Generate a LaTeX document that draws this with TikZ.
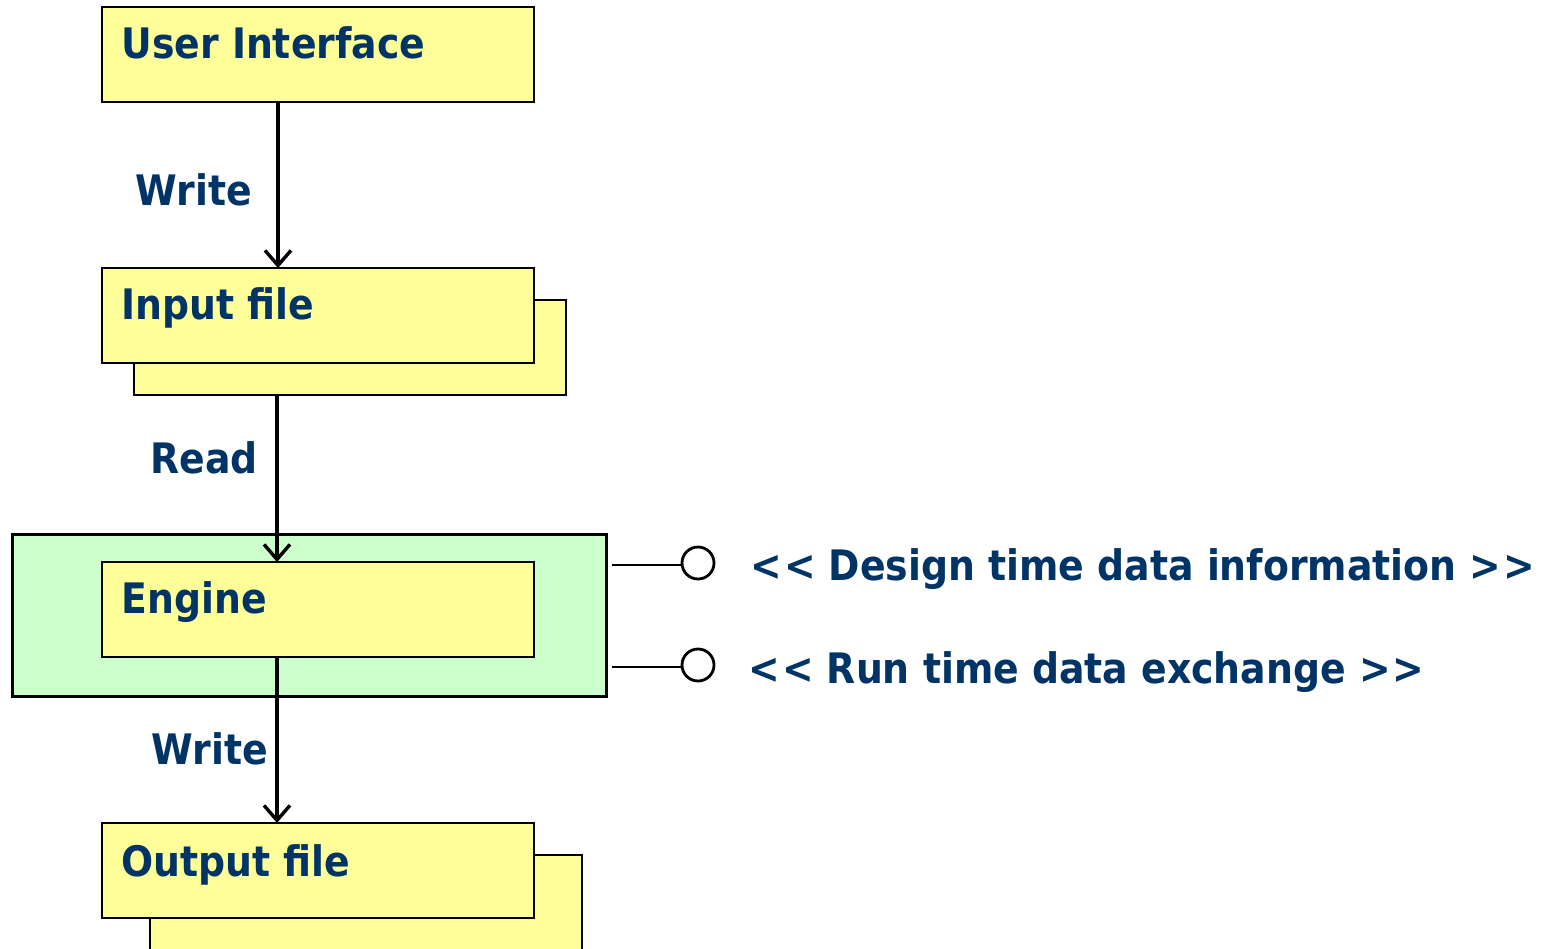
\documentclass[tikz,border=0pt]{standalone}
\usepackage{fontspec}
\setmainfont{DejaVu Sans}[FakeStretch=0.9]
\usepackage{xcolor}
\usetikzlibrary{arrows.meta}
\definecolor{navy}{HTML}{003366}
\definecolor{fileyellow}{HTML}{FFFF99}
\definecolor{enginegreen}{HTML}{CCFFCC}
\tikzset{
    filebox/.style={draw=black, fill=fileyellow, line width=1pt, minimum width=216pt, minimum height=47.5pt, inner sep=0pt, outer sep=0pt, anchor=north west},
    title/.style={text=navy, font=\fontsize{21}{25}\selectfont\bfseries, anchor=base west, inner sep=0pt},
    flow/.style={line width=1.7pt, -{Straight Barb[length=7.5pt, width=13pt, line width=1.7pt]}},
    socket/.style={circle, draw=black, line width=1.4pt, minimum size=16pt, inner sep=0pt}
}

\begin{document}
\begin{tikzpicture}[x=0.5pt, y=-0.5pt]
    \useasboundingbox (0,0) rectangle (1542,948);
    \clip (0,0) rectangle (1542,948);
    % stacked file shadows
    \node[filebox] (inshadow) at (134,300) {};
    \node[filebox] (outshadow) at (150,855) {};
    % boxes
    \node[filebox] (ui) at (102,7) {};
    \node[filebox] (input) at (102,268) {};
    \node[draw=black, fill=enginegreen, line width=1.5pt, minimum width=297pt, minimum height=81pt, inner sep=0pt, anchor=north west] (frame) at (11,533) {};
    \node[filebox] (engine) at (102,562) {};
    \node[filebox] (output) at (102,823) {};
    % box titles
    \node[title] at (121,58) {User Interface};
    \node[title] at (121,319) {Input file};
    \node[title] at (121,613) {Engine};
    \node[title] at (121,876) {Output file};
    % data flow
    \draw[flow] (ui.south -| 278,0) -- (input.north -| 278,0);
    \draw[flow] (inshadow.south -| 277,0) -- (engine.north -| 277,0);
    \draw[flow] (engine.south -| 277,0) -- (output.north -| 277,0);
    \node[title] at (135,205) {Write};
    \node[title] at (150,473) {Read};
    \node[title] at (151,764) {Write};
    % interfaces
    \node[socket] (design) at (698,563) {};
    \node[socket] (run) at (698,665) {};
    \coordinate (designstub) at (612,565);
    \coordinate (runstub) at (612,667);
    \draw[line width=1.4pt] (designstub) -- (design.west |- designstub);
    \draw[line width=1.4pt] (runstub) -- (run.west |- runstub);
    \node[title] at (750,580) {<\kern1pt< Design time data information >\kern1pt>};
    \node[title] at (748,683) {<\kern1pt< Run time data exchange >\kern1pt>};
\end{tikzpicture}
\end{document}
